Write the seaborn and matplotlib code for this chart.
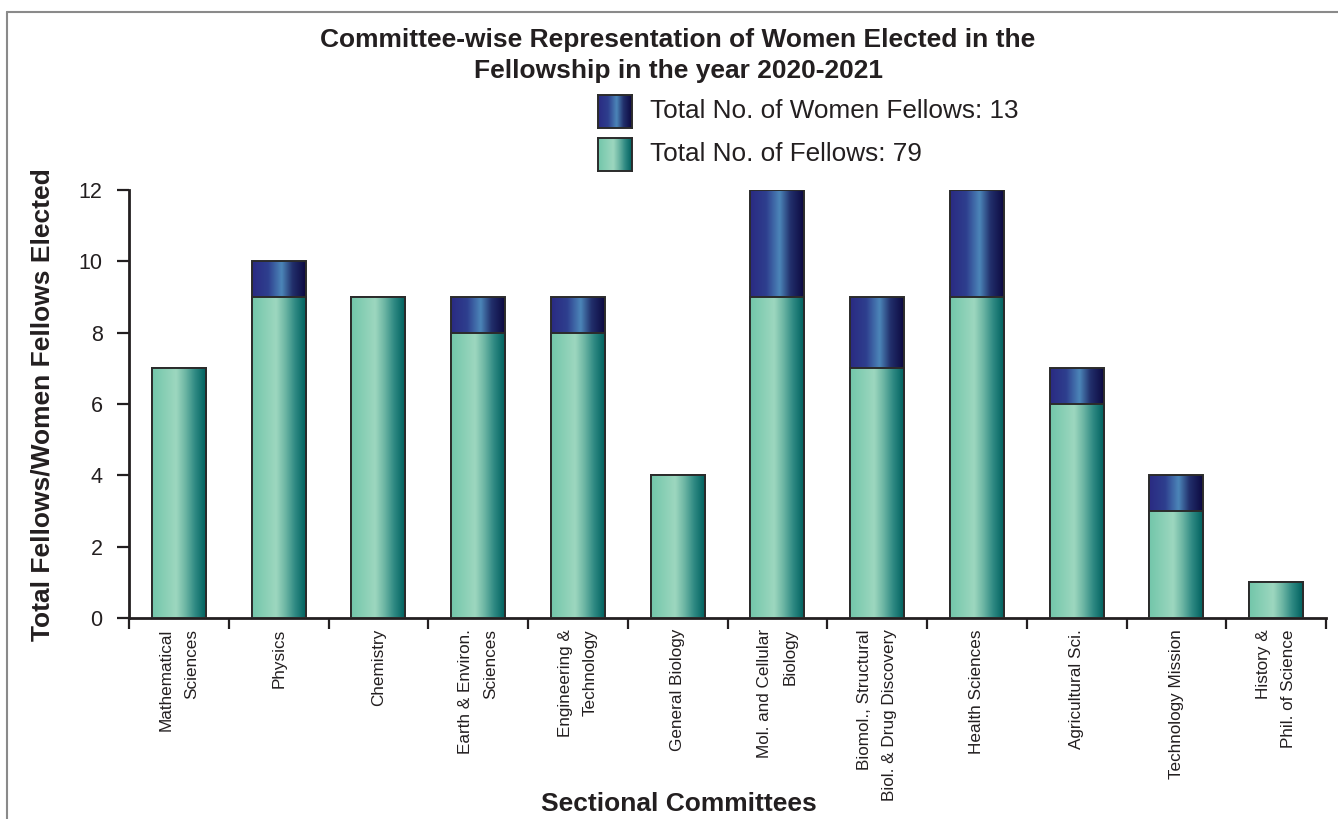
import numpy as np
import pandas as pd
import matplotlib
matplotlib.use("Agg")
import matplotlib.pyplot as plt
import seaborn as sns
from matplotlib.colors import LinearSegmentedColormap
from matplotlib.lines import Line2D

committees = [
    "Mathematical\nSciences", "Physics", "Chemistry", "Earth & Environ.\nSciences",
    "Engineering &\nTechnology", "General Biology", "Mol. and Cellular\nBiology",
    "Biomol., Structural\nBiol. & Drug Discovery", "Health Sciences", "Agricultural Sci.",
    "Technology Mission", "History &\nPhil. of Science",
]
fellows = [7, 9, 9, 8, 8, 4, 9, 7, 9, 6, 3, 1]
women = [0, 1, 0, 1, 1, 0, 3, 2, 3, 1, 1, 0]
yticks = [0, 2, 4, 6, 8, 10, 12]
title = "Committee-wise Representation of Women Elected in the\nFellowship in the year 2020-2021"
legend_women = "Total No. of Women Fellows: 13"
legend_fellows = "Total No. of Fellows: 79"
xlabel = "Sectional Committees"
ylabel = "Total Fellows/Women Fellows Elected"

df = pd.DataFrame({"committee": committees, "fellows": fellows, "women": women})
df["total"] = df["fellows"] + df["women"]

sns.set_theme(style="ticks")
plt.rcParams["font.family"] = ["Liberation Sans", "DejaVu Sans"]
NARROW = ["Liberation Sans Narrow", "Liberation Sans", "DejaVu Sans"]
TXT = "#231f20"

teal_cmap = LinearSegmentedColormap.from_list("teal", [
    (0.0, "#72c6aa"), (0.45, "#9dd7bf"), (0.62, "#6db6a4"), (0.8, "#2f8a83"), (1.0, "#00615f")])
navy_cmap = LinearSegmentedColormap.from_list("navy", [
    (0.0, "#2a2a82"), (0.3, "#2e3f8e"), (0.55, "#4c86b9"), (0.75, "#22306c"), (1.0, "#0c0840")])
grad = np.linspace(0, 1, 256).reshape(1, -1)

fig = plt.figure(figsize=(13.38, 8.19), dpi=100)
ax = fig.add_axes([129 / 1338, 1 - 618 / 819, (1326 - 129) / 1338, (618 - 190) / 819])

sns.barplot(data=df, x="committee", y="total", color="#2a2a82", width=0.54,
            edgecolor="#2b2b2b", linewidth=1.4, ax=ax, zorder=2)
n_nav = len(ax.patches)
sns.barplot(data=df, x="committee", y="fellows", color="#72c6aa", width=0.54,
            edgecolor="#2b2b2b", linewidth=1.4, ax=ax, zorder=4)
patches = list(ax.patches)

def gradient_fill(p, cmap, z):
    x0, y0 = p.get_x(), p.get_y()
    w, h = p.get_width(), p.get_height()
    if h <= 0:
        p.set_visible(False)
        return
    im = ax.imshow(grad, cmap=cmap, extent=[x0, x0 + w, y0, y0 + h], aspect="auto",
                   interpolation="bicubic", zorder=z - 0.5)
    im.set_clip_path(p)
    p.set_facecolor("none")
    p.set_zorder(z)

for i, p in enumerate(patches):
    if i < n_nav:
        gradient_fill(p, navy_cmap, 2)
    else:
        gradient_fill(p, teal_cmap, 4)

ax.set_xlim(-0.5, len(committees) - 0.5)
ax.set_ylim(0, 12)
ax.set_yticks(yticks)
ax.set_yticklabels([str(v) for v in yticks], fontsize=15.5, color=TXT)
ax.set_xticks(np.arange(-0.5, len(committees)), labels=[""] * (len(committees) + 1))
ax.set_xticks(np.arange(len(committees)), labels=committees, minor=True)
for lab in ax.get_xticklabels(minor=True):
    lab.set_rotation(90)
    lab.set_fontsize(12.3)
    lab.set_family(NARROW)
    lab.set_color(TXT)
    lab.set_multialignment("right")
    lab.set_verticalalignment("top")
    lab.set_horizontalalignment("center")
    lab.set_linespacing(1.85)
ax.tick_params(axis="x", which="minor", length=0, pad=8)
ax.tick_params(axis="x", which="major", length=8, width=1.6, color=TXT, direction="out")
ax.tick_params(axis="y", length=9, width=1.6, color=TXT, direction="out", pad=10)

for s in ["top", "right"]:
    ax.spines[s].set_visible(False)
for s in ["left", "bottom"]:
    ax.spines[s].set_linewidth(2)
    ax.spines[s].set_color(TXT)
ax.set_xlabel(xlabel, fontsize=19, fontweight="bold", family=NARROW, color=TXT, labelpad=0)
ax.xaxis.set_label_coords(0.459, -0.407)
ax.set_ylabel(ylabel, fontsize=19, fontweight="bold", color=TXT)
ax.yaxis.set_label_coords(-0.062, 0.498)

fig.text(678 / 1338, 1 - 55.5 / 819, title, ha="center", va="center", fontsize=19,
         fontweight="bold", family=NARROW, color=TXT, linespacing=1.35)

# legend swatches
for (top, cmap, label) in [(95, navy_cmap, legend_women), (138, teal_cmap, legend_fellows)]:
    lax = fig.add_axes([598 / 1338, 1 - (top + 33) / 819, 34 / 1338, 33 / 819])
    lax.imshow(grad, cmap=cmap, aspect="auto", interpolation="bicubic")
    lax.set_xticks([]); lax.set_yticks([])
    for sp in lax.spines.values():
        sp.set_linewidth(1.4); sp.set_color("#2b2b2b")
    fig.text(650 / 1338, 1 - (top + 16) / 819, label, ha="left", va="center",
             fontsize=18.8, color=TXT)

# frame lines
fig.add_artist(Line2D([7 / 1338, 1.0], [1 - 12 / 819] * 2, color="#8a8a8a", lw=1.5))
fig.add_artist(Line2D([7 / 1338] * 2, [0, 1 - 12 / 819], color="#8a8a8a", lw=1.5))

fig.savefig("out.png", dpi=100)
